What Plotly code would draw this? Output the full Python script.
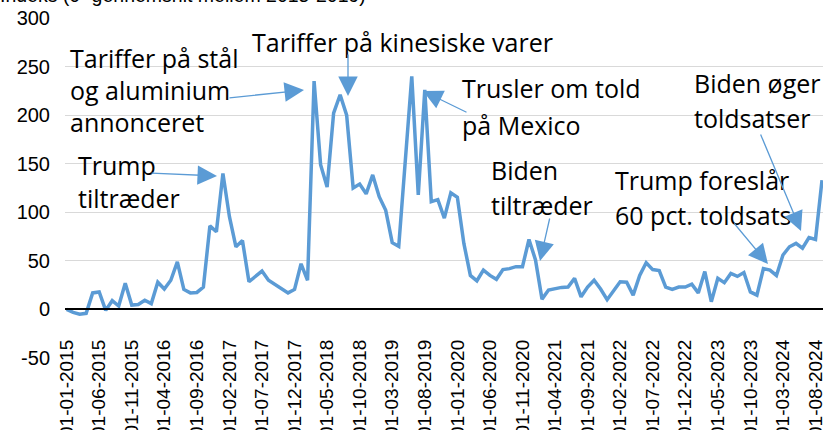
import plotly.graph_objects as go

# Monthly index values, Jan 2015 - Sep 2024
values = [
    0, -3, -5, -4, 17, 18, -1, 9, 3.5, 27,
    4.5, 5, 9.5, 6, 28, 21, 30, 49, 20.6, 17,
    17.5, 23, 86, 80, 140, 95.5, 64.5, 71, 28.5, 34,
    39.5, 30, 26, 21.5, 17, 20.6, 47, 30, 235, 149,
    126, 202, 221, 200, 125, 129, 119, 138.5, 116, 102,
    68.7, 65, 150, 240, 118, 226, 111, 113, 94, 120,
    115.5, 68, 35, 29.5, 40.5, 35, 31, 41, 42, 44,
    44, 72, 51, 10.6, 20, 21.6, 22.7, 23, 32, 13,
    23, 30, 21, 10, 20, 28.5, 28, 14.7, 35, 48,
    41, 40, 23, 20.6, 23, 23, 26, 17, 39, 8,
    32, 27.5, 37, 34, 38, 18, 14.7, 42, 40.5, 35,
    56, 64.5, 68, 63, 74, 72, 133,
]
start_year, start_month = 2015, 1
months = []
for i in range(len(values)):
    mm = (start_month - 1 + i) % 12 + 1
    yy = start_year + (start_month - 1 + i) // 12
    months.append(f"01-{mm:02d}-{yy}")

tick_step = 5
tick_idx = list(range(0, len(values), tick_step))
tick_labels = [months[i] for i in tick_idx]

y_ticks = [-50, 0, 50, 100, 150, 200, 250, 300]
y_tick_labels = [str(v) for v in y_ticks]

title_text = "Indeks (0=gennemsnit mellem 2015-2019)"

annot_lines = [
    ("Tariffer på stål", 68, 58),
    ("og aluminium", 68, 90),
    ("annonceret", 68, 122),
    ("Tariffer på kinesiske varer", 250, 42),
    ("Trump", 76, 165),
    ("tiltræder", 76, 198),
    ("Trusler om told", 460, 88),
    ("på Mexico", 460, 125),
    ("Biden", 489, 170),
    ("tiltræder", 489, 205),
    ("Trump foreslår", 613, 180),
    ("60 pct. toldsats", 613, 215),
    ("Biden øger", 692, 83),
    ("toldsatser", 692, 118),
]
# arrows: (tail_px, tail_py, tip_px, tip_py)
arrows = [
    (228, 98, 304, 90),
    (348, 53, 348, 96),
    (150, 173, 217, 176),
    (468, 113, 423, 91),
    (550, 217, 540, 261),
    (733, 222, 768, 264),
    (760, 133, 801, 231),
]

W, H = 823, 430
ML, MR, MT, MB = 65, 0, 18, 72
x_range = [-0.25, len(values) - 1 + 0.15]
y_range = [-50, 300]
pw = W - ML - MR
ph = H - MT - MB


def px2x(px):
    return x_range[0] + (px - ML) / pw * (x_range[1] - x_range[0])


def py2y(py):
    return y_range[1] - (py - MT) / ph * (y_range[1] - y_range[0])


BLUE = "#5B9BD5"

fig = go.Figure()
fig.add_trace(go.Scatter(
    x=list(range(len(values))), y=values, mode="lines",
    line=dict(color=BLUE, width=3.5), hoverinfo="skip", showlegend=False,
))

annotations = []
for txt, px, py in annot_lines:
    annotations.append(dict(
        x=px2x(px), y=py2y(py), xref="x", yref="y", text=txt, showarrow=False,
        xanchor="left", yanchor="middle",
        font=dict(family="Open Sans, sans-serif", size=25, color="#000000"),
    ))
for tx, ty, hx, hy in arrows:
    annotations.append(dict(
        x=px2x(hx), y=py2y(hy), ax=px2x(tx), ay=py2y(ty),
        xref="x", yref="y", axref="x", ayref="y", text="", showarrow=True,
        arrowhead=2, arrowsize=3, arrowwidth=1.3, arrowcolor=BLUE, standoff=0,
    ))
annotations.append(dict(
    x=0, y=1 + (MT + 5) / ph, xref="paper", yref="paper", text=title_text,
    showarrow=False, xanchor="left", yanchor="middle", xshift=-ML - 2,
    font=dict(family="Liberation Sans, Arial, sans-serif", size=19.5, color="#000000"),
))

fig.update_layout(
    width=W, height=H,
    margin=dict(l=ML, r=MR, t=MT, b=MB, autoexpand=False),
    paper_bgcolor="white", plot_bgcolor="white",
    annotations=annotations,
    xaxis=dict(
        range=x_range, tickmode="array", tickvals=tick_idx, ticktext=tick_labels,
        tickangle=-90, showgrid=False, zeroline=False, automargin=False,
        showline=True, linecolor="#000000", linewidth=1.5,
        anchor="free", position=(0 - y_range[0]) / (y_range[1] - y_range[0]),
        ticks="", ticklabelstandoff=22, ticklabeloverflow="allow",
        tickfont=dict(family="Liberation Sans, Arial, sans-serif", size=19, color="#000000"),
    ),
    yaxis=dict(
        range=y_range, tickmode="array", tickvals=y_ticks, ticktext=y_tick_labels,
        showgrid=True, gridcolor="#D9D9D9", gridwidth=1, zeroline=False,
        showline=False, ticks="", ticklabelstandoff=14, automargin=False,
        tickfont=dict(family="Liberation Sans, Arial, sans-serif", size=20, color="#000000"),
    ),
)

fig.write_html(
    "out.html",
    config={"displayModeBar": False},
    post_script="document.body.style.margin='0';document.body.style.overflow='hidden';",
)
